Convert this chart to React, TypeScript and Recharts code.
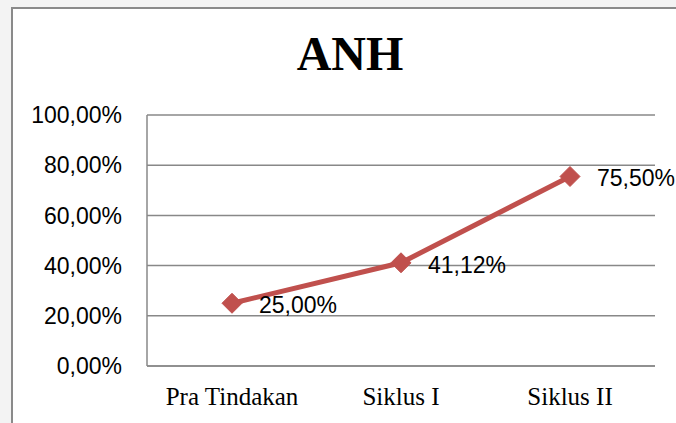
import { CartesianGrid, LabelList, Line, LineChart, XAxis, YAxis } from "recharts";

const categories = ["Pra Tindakan", "Siklus I", "Siklus II"];
const scores = [0.25, 0.4112, 0.755];
const yTicks = [0, 0.2, 0.4, 0.6, 0.8, 1];

const data = categories.map((name, i) => ({ name, value: scores[i] }));

const pct = (v: number) => `${(v * 100).toFixed(2).replace(".", ",")}%`;

const LINE_COLOR = "#C0504D";
const SANS = "'Liberation Sans', Arial, sans-serif";
const SERIF = "'Liberation Serif', 'Times New Roman', serif";

const Diamond = (props: any) => {
  const { cx, cy } = props;
  if (cx == null || cy == null) return null;
  const r = 10;
  return (
    <polygon
      points={`${cx},${cy - r} ${cx + r},${cy} ${cx},${cy + r} ${cx - r},${cy}`}
      fill={LINE_COLOR}
      stroke={LINE_COLOR}
    />
  );
};

const renderValueLabel = (props: any) => {
  const { x, y, value } = props;
  return (
    <text
      x={x + 27}
      y={y + 2}
      fill="#000"
      fontSize={23}
      fontFamily={SANS}
      textAnchor="start"
      dominantBaseline="central"
    >
      {pct(value)}
    </text>
  );
};

const App = () => {
  return (
    <div
      style={{
        position: "absolute",
        left: 0,
        top: 0,
        width: 676,
        height: 423,
        overflow: "hidden",
        background: "#f3f3f3",
      }}
    >
      <div
        style={{
          position: "absolute",
          left: 11,
          top: 7,
          width: 700,
          height: 460,
          background: "#fff",
          borderLeft: "2px solid #8a8a8a",
          borderTop: "2px solid #8a8a8a",
        }}
      />
      <div
        style={{
          position: "absolute",
          left: 0,
          top: 26,
          width: 700,
          textAlign: "center",
          fontFamily: SERIF,
          fontWeight: "bold",
          fontSize: 48,
          lineHeight: "56px",
        }}
      >
        ANH
      </div>
      <div style={{ position: "absolute", left: 0, top: 0 }}>
        <LineChart
          width={676}
          height={423}
          data={data}
          margin={{ top: 115, right: 21, bottom: 17, left: 0 }}
        >
          <CartesianGrid vertical={false} stroke="#888" strokeWidth={1.5} />
          <XAxis
            dataKey="name"
            height={40}
            padding={{ left: 85, right: 85 }}
            axisLine={{ stroke: "#888", strokeWidth: 1.5 }}
            tickLine={false}
            tickSize={0}
            tickMargin={21}
            tick={{ fill: "#000", fontSize: 25, fontFamily: SERIF }}
            interval={0}
          />
          <YAxis
            width={147}
            domain={[0, 1]}
            ticks={yTicks}
            tickFormatter={pct}
            axisLine={{ stroke: "#888", strokeWidth: 1.5 }}
            tickLine={false}
            tickSize={0}
            tickMargin={25}
            tick={{ fill: "#000", fontSize: 23, fontFamily: SANS }}
          />
          <Line
            dataKey="value"
            stroke={LINE_COLOR}
            strokeWidth={5}
            dot={<Diamond />}
            activeDot={false}
            isAnimationActive={false}
          >
            <LabelList dataKey="value" content={renderValueLabel} />
          </Line>
        </LineChart>
      </div>
    </div>
  );
};

export default App;
